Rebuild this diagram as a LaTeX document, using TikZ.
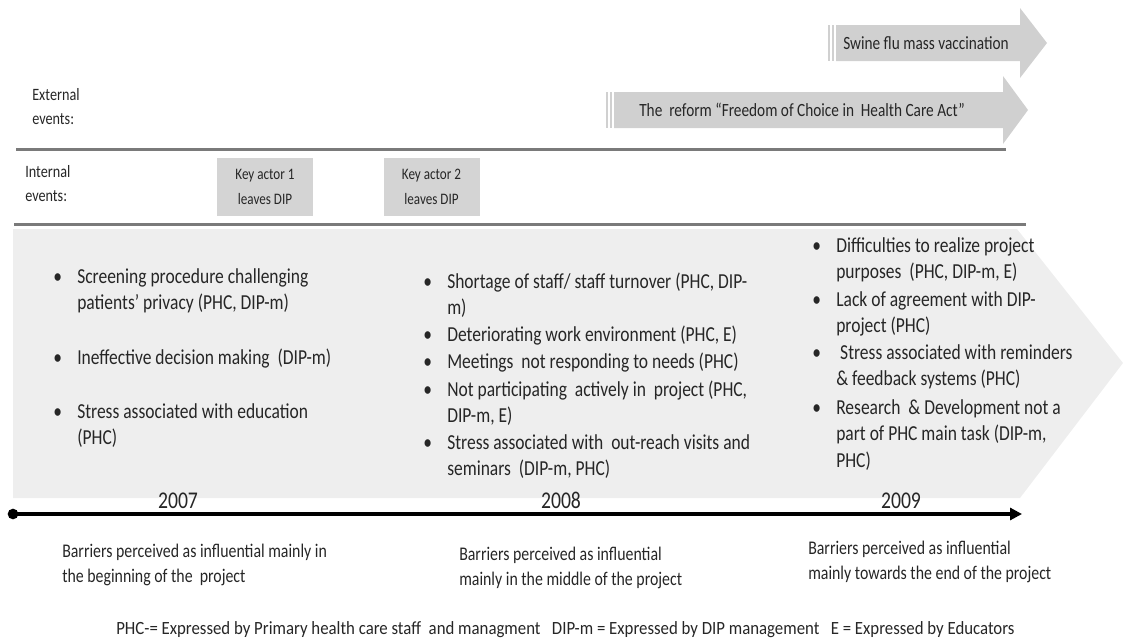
\documentclass[tikz,border=0pt]{standalone}
\usepackage{fontspec}
\setmainfont{Carlito}[FakeStretch=0.82]
\newfontfamily\keyfont{Carlito}[FakeStretch=0.9]
\usetikzlibrary{arrows.meta}
\definecolor{arrowgray}{HTML}{D0D0D0}
\definecolor{boxgray}{HTML}{D4D4D4}
\definecolor{bandgray}{HTML}{EEEEEE}
\definecolor{rulegray}{HTML}{7A7A7A}
\definecolor{textgray}{HTML}{262626}
% lines of a text, hung from the baseline of the first one
\newcommand{\toplines}[1]{\begin{tabular}[t]{@{}l@{}}#1\end{tabular}}
\tikzset{
	event text/.style={anchor=west, inner sep=0pt, text=textgray, font=\fontsize{14}{18}\selectfont},
	label text/.style={anchor=base west, inner sep=0pt, text=textgray, font=\fontsize{13}{18}\selectfont},
	actor/.style={fill=boxgray, minimum width=72pt, minimum height=43.5pt, inner sep=0pt, align=center, text=textgray, font=\fontsize{12}{18.5}\selectfont},
	barrier/.style={anchor=base west, inner sep=0pt, text=textgray, font=\fontsize{16}{20}\selectfont},
	dot/.style={anchor=base west, inner sep=0pt, text=textgray, font=\fontsize{16}{20}\selectfont},
	year/.style={anchor=base, inner sep=0pt, text=textgray, font=\fontsize{18}{20}\selectfont},
	period/.style={anchor=base west, inner sep=0pt, text=textgray, font=\fontsize{14.5}{18.75}\selectfont},
	rule/.style={draw=rulegray, line width=2.25pt}
}
\begin{document}
\begin{tikzpicture}[x=0.75pt, y=-0.75pt, >=Stealth]
	\useasboundingbox (0,0) rectangle (1125,643);

	% External events
	\fill[arrowgray] (828,25) rectangle (830,61);
	\fill[arrowgray] (832,25) rectangle (834,61);
	\fill[arrowgray] (836,25) -- (1020,25) -- (1020,8) -- (1047,43) -- (1020,78) -- (1020,61) -- (836,61) -- cycle;
	\node[event text] (swine) at (843,43) {Swine flu mass vaccination};

	\fill[arrowgray] (606,92) rectangle (608,128);
	\fill[arrowgray] (610,92) rectangle (612,128);
	\fill[arrowgray] (614,92) -- (1003,92) -- (1003,76) -- (1028,110) -- (1003,144) -- (1003,128) -- (614,128) -- cycle;
	\node[event text] (reform) at (639,110) {The\ \ reform “Freedom of Choice in\ \ Health Care Act”};

	\node[label text] (ext) at (32,100) {\toplines{External\\events:}};
	\draw[rule] (16,149) -- (1006,149);

	% Internal events
	\node[label text] (int) at (25,177) {\toplines{Internal\\events:}};
	\node[actor] (actor1) at (265,187) {Key actor 1\\leaves DIP};
	\node[actor] (actor2) at (431.5,187) {Key actor 2\\leaves DIP};
	\draw[rule] (14,224) -- (1026,224);

	% Barriers band
	\fill[bandgray] (13,229) -- (1017,229) -- (1123,363) -- (1020,498) -- (13,498) -- cycle;

	\node[dot] (d1a) at (53,283) {•};
	\node[barrier] (b1a) at (77,283) {\toplines{Screening procedure challenging\\patients’ privacy (PHC, DIP-m)}};
	\node[dot] (d1b) at (53,364) {•};
	\node[barrier] (b1b) at (77,364) {Ineffective decision making\ \ (DIP-m)};
	\node[dot] (d1c) at (53,418) {•};
	\node[barrier] (b1c) at (77,418) {\toplines{Stress associated with education\\(PHC)}};

	\node[dot] (d2a) at (423,288) {•};
	\node[barrier] (b2a) at (447,288) {\toplines{Shortage of staff/ staff turnover (PHC, DIP-\\m)}};
	\node[dot] (d2b) at (423,341) {•};
	\node[barrier] (b2b) at (447,341) {Deteriorating work environment (PHC, E)};
	\node[dot] (d2c) at (423,368) {•};
	\node[barrier] (b2c) at (447,368) {Meetings\ \ not responding to needs (PHC)};
	\node[dot] (d2d) at (423,396) {•};
	\node[barrier] (b2d) at (447,396) {\toplines{Not participating\ \ actively in\ \ project (PHC,\\DIP-m, E)}};
	\node[dot] (d2e) at (423,449) {•};
	\node[barrier] (b2e) at (447,449) {\toplines{Stress associated with\ \ out-reach visits and\\seminars\ \ (DIP-m, PHC)}};

	\node[dot] (d3a) at (812,252) {•};
	\node[barrier] (b3a) at (836,252) {\toplines{Difficulties to realize project\\purposes\ \ (PHC, DIP-m, E)}};
	\node[dot] (d3b) at (812,306) {•};
	\node[barrier] (b3b) at (836,306) {\toplines{Lack of agreement with DIP-\\project (PHC)}};
	\node[dot] (d3c) at (812,359) {•};
	\node[barrier] (b3c) at (836,359) {\toplines{\ Stress associated with reminders\\\& feedback systems (PHC)}};
	\node[dot] (d3d) at (812,414) {•};
	\node[barrier] (b3d) at (836,414) {\toplines{Research\ \ \& Development not a\\part of PHC main task (DIP-m,\\PHC)}};

	% Timeline
	\node[year] (y2007) at (178,508) {2007};
	\node[year] (y2008) at (561,508) {2008};
	\node[year] (y2009) at (901,508) {2009};
	\coordinate (tstart) at (13,514);
	\coordinate (tend) at (1022,514);
	\draw[line width=3pt, -{Triangle[length=9pt,width=9pt]}] (tstart) -- (tend);
	\fill (tstart) circle (4pt);

	\node[period] (p1) at (62,557) {\toplines{Barriers perceived as influential mainly in\\the beginning of the\ \ project}};
	\node[period] (p2) at (459,560) {\toplines{Barriers perceived as influential\\mainly in the middle of the project}};
	\node[period] (p3) at (808,554) {\toplines{Barriers perceived as influential\\mainly towards the end of the project}};

	\node[anchor=base west, inner sep=0pt, text=textgray, font=\keyfont\fontsize{14}{16}\selectfont] (key) at (116,634)
		{PHC-= Expressed by Primary health care staff\ \ and managment\ \ \ DIP-m = Expressed by DIP management\ \ \ E = Expressed by Educators};
\end{tikzpicture}
\end{document}
